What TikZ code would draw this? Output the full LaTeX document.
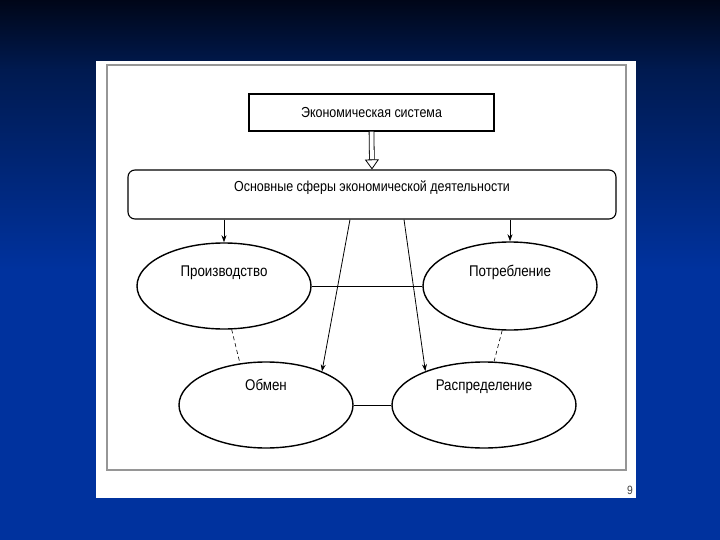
\documentclass[tikz,border=0pt]{standalone}
\usepackage{fontspec}
\setmainfont{Liberation Sans}[FakeStretch=0.86]
\usepackage{tikz}
\usetikzlibrary{shapes.geometric, arrows.meta, calc}
\definecolor{slidetop}{RGB}{0,6,24}
\definecolor{slidemid}{RGB}{0,26,80}
\definecolor{slideblue}{RGB}{0,50,158}
\definecolor{framegray}{RGB}{150,150,150}
\tikzset{
x=1pt, y=-1pt, % one unit is one pixel of the slide
sysbox/.style={draw, line width=1.1pt, minimum width=245pt, minimum height=37pt, font=\fontsize{14.5}{16}\selectfont}, % the top box
spherebox/.style={draw, line width=1.1pt, rounded corners=7pt, minimum width=488pt, minimum height=49pt}, % the wide rounded box
sphere/.style={ellipse, draw, line width=1.4pt, minimum width=174pt, minimum height=86pt}, % one sphere of activity
upper/.style={font=\fontsize{15.5}{17}\selectfont, text height=11pt, text depth=3pt, yshift=#1}, % label set in the upper half
upper/.default=13.5pt,
arr/.style={-{Stealth[length=7pt,width=5pt]}, line width=0.8pt}, % thin arrow
link/.style={line width=0.8pt}, % plain connection
dlink/.style={line width=0.6pt, dash pattern=on 4pt off 3pt}, % dashed connection
}
\begin{document}
\begin{tikzpicture}
\useasboundingbox (0,0) rectangle (720,540);
% slide background
\shade[top color=slidetop, bottom color=slidemid] (0,0) rectangle (720,70);
\shade[top color=slidemid, bottom color=slideblue] (0,70) rectangle (720,270);
\fill[slideblue] (0,270) rectangle (720,540);
\fill[white] (96,61) rectangle (636,498);
\draw[framegray, line width=1.3pt] (107,65) rectangle (626,470);
\node[text=black!75, font=\fontsize{12}{14}\selectfont] (pagenum) at (630,490) {9};

% boxes
\node[sysbox] (sys) at (371.5,112.5) {Экономическая система};
\node[spherebox, label={[upper=7pt, font=\fontsize{14.5}{16}\selectfont]center:Основные сферы экономической деятельности}] (spheres) at (372,194.5) {};

% spheres
\node[sphere, label={[upper]center:Производство}] (prod) at (224,286) {};
\node[sphere, minimum height=88pt, label={[upper]center:Потребление}] (cons) at (510,286) {};
\node[sphere, label={[upper=19pt]center:Обмен}] (exch) at (266,405) {};
\node[sphere, minimum width=184pt, label={[upper=19pt]center:Распределение}] (distr) at (484,405) {};

% hollow double arrow
\draw[double, line width=0.8pt, double distance=4pt, -{Triangle[open, length=10pt, width=14pt]}] (sys.south) -- (spheres.north);

% arrows from the wide box
\draw[arr] (spheres.south -| prod.north) -- (prod.north);
\draw[arr] (spheres.south -| cons.north) -- (cons.north);
\draw[arr] ($(spheres.south)+(-22,0)$) -- (exch.31);
\draw[arr] ($(spheres.south)+(32,0)$) -- (distr.150);

% links between spheres
\draw[link] (prod.east) -- (cons.west);
\draw[link] (exch.east) -- (distr.west);
\draw[dlink] (prod.-80) -- (exch.122);
\draw[dlink] (cons.-100) -- (distr.77);
\end{tikzpicture}
\end{document}
